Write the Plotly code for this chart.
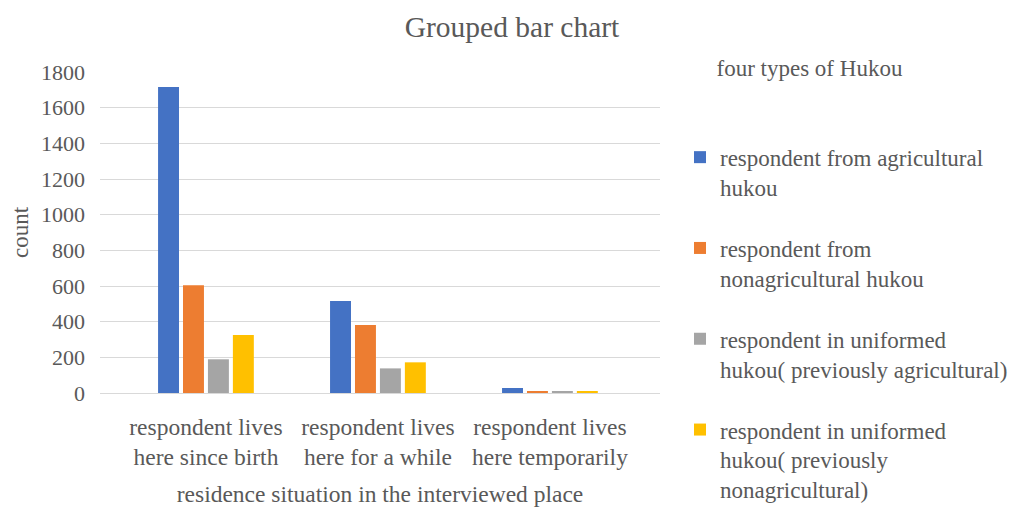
import plotly.graph_objects as go

categories = ["respondent lives<br>here since birth",
              "respondent lives<br>here for a while",
              "respondent lives<br>here temporarily"]
series_names = ["respondent from agricultural<br>hukou",
                "respondent from<br>nonagricultural hukou",
                "respondent in uniformed<br>hukou( previously agricultural)",
                "respondent in uniformed<br>hukou( previously<br>nonagricultural)"]
agricultural = [1716, 516, 28]
nonagricultural = [604, 381, 11]
uniform_prev_agri = [189, 138, 10]
uniform_prev_nonagri = [325, 172, 9]
colors = ["#4472C4", "#ED7D31", "#A5A5A5", "#FFC000"]
y_ticks = [0, 200, 400, 600, 800, 1000, 1200, 1400, 1600, 1800]

FONT = "Liberation Serif"
GRAY = "#595959"

fig = go.Figure()
for i, (name, vals) in enumerate(zip(series_names,
                                     [agricultural, nonagricultural, uniform_prev_agri, uniform_prev_nonagri])):
    fig.add_trace(go.Bar(x=categories, y=vals, name=name, marker_color=colors[i],
                         marker_line_width=0, legendgroup=f"g{i}"))

# page body has an 8px margin, so the figure is 8px smaller and margins are compensated
W, H = 1011, 499
L, R, T, B = 92, 359, 64, 114

fig.update_layout(
    width=W, height=H,
    paper_bgcolor="white", plot_bgcolor="white",
    margin=dict(l=L, r=R, t=T, b=B),
    font=dict(family=FONT, size=22, color=GRAY),
    title=dict(text="Grouped bar chart", x=(512 - 8) / W, xanchor="center", y=1 - 19 / H, yanchor="middle",
               font=dict(family=FONT, size=29.5, color=GRAY)),
    barmode="group", bargap=0.42, bargroupgap=0.16,
    legend=dict(xref="container", yref="container",
                x=672 / W, xanchor="left", y=1 - 38 / H, yanchor="top",
                title=dict(text="&nbsp;&nbsp;&nbsp;&nbsp;&nbsp;&nbsp;four types of Hukou<br> <br> ",
                           font=dict(size=23, color=GRAY)),
                font=dict(size=23, color=GRAY), traceorder="grouped", tracegroupgap=28,
                valign="top", itemwidth=30, maxheight=600),
    xaxis=dict(title=dict(text="residence situation in the interviewed place", standoff=18,
                          font=dict(size=23.5, color=GRAY)),
               range=[-0.616, 2.64],
               tickfont=dict(size=23.5, color=GRAY), showgrid=False,
               showline=False, ticks="", automargin=False, ticklabelstandoff=17),
    yaxis=dict(title=dict(text="count", font=dict(size=23, color=GRAY), standoff=18),
               range=[0, 1800], tickvals=y_ticks, tickfont=dict(size=22, color=GRAY),
               showgrid=True, gridcolor="#D9D9D9", gridwidth=1,
               zeroline=True, zerolinecolor="#D9D9D9", zerolinewidth=1,
               ticklabelstandoff=14, automargin=False),
)

fig.write_html("out.html")
